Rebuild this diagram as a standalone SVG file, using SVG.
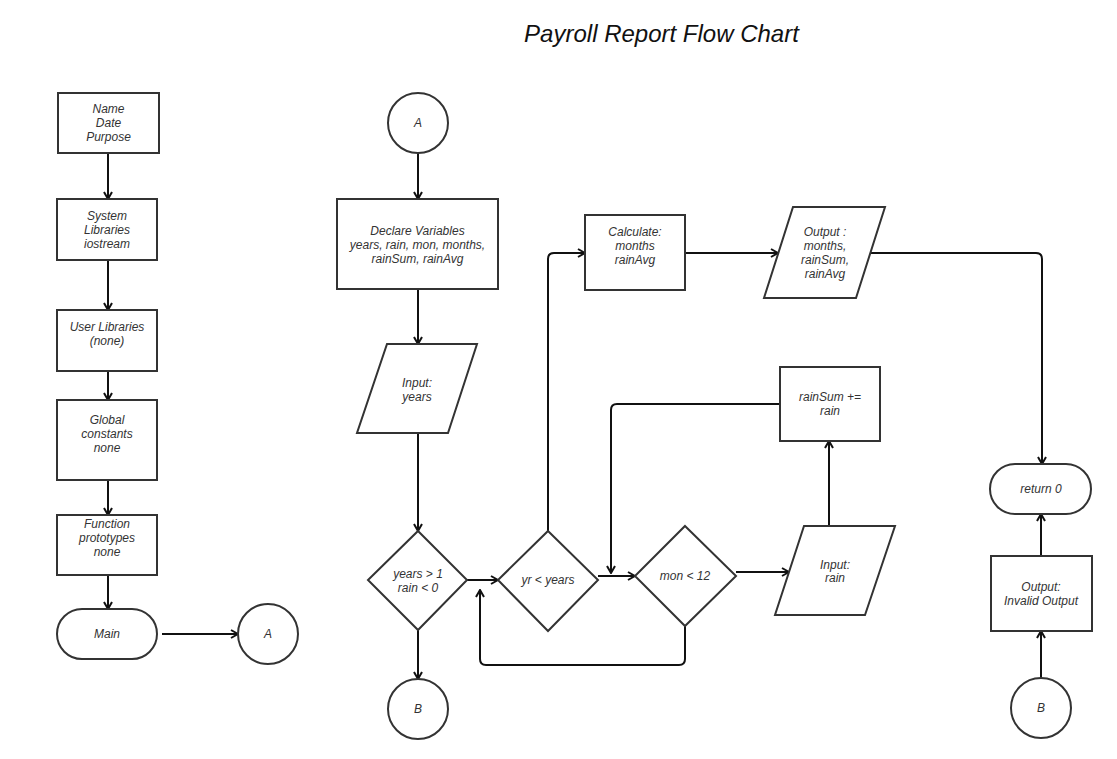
<svg xmlns="http://www.w3.org/2000/svg" width="1117" height="759" viewBox="0 0 1117 759">
<style>
.s{fill:#fff;stroke:#333;stroke-width:2}
.t{font-family:"Liberation Sans",Arial,sans-serif;font-size:12px;font-style:italic;fill:#333;text-anchor:middle}
.c{fill:none;stroke:#111;stroke-width:2}
.title{font-family:"Liberation Sans",Arial,sans-serif;font-size:24px;font-style:italic;fill:#111;text-anchor:middle}
</style>
<defs>
<marker id="ar" viewBox="0 0 10 10" refX="9" refY="5" markerWidth="10" markerHeight="10" markerUnits="userSpaceOnUse" orient="auto">
<path d="M2,1 L9,5 L2,9" fill="none" stroke="#111" stroke-width="2"/>
</marker>
</defs>
<rect width="1117" height="759" fill="#fff"/>
<text class="title" x="661.5" y="42">Payroll Report Flow Chart</text>

<g id="connectors" class="c" marker-end="url(#ar)">
<path d="M108,153 V199"/>
<path d="M108,260 V310"/>
<path d="M108,371 V400"/>
<path d="M108,480 V515"/>
<path d="M108,575 V609"/>
<path d="M162,634 H238"/>
<path d="M418,153 V199"/>
<path d="M418,289 V344"/>
<path d="M418,433 V531"/>
<path d="M418,630 V679"/>
<path d="M467,580 H498"/>
<path d="M548,531 V259 Q548,253 554,253 H585"/>
<path d="M598,576 H635"/>
<path d="M685,626 V659 Q685,665 679,665 H486 Q480,665 480,659 V590"/>
<path d="M736,572 H789"/>
<path d="M829,526 V441"/>
<path d="M780,404 H617 Q611,404 611,410 V573"/>
<path d="M685,253 H778"/>
<path d="M870,253 H1036 Q1042,253 1042,259 V464"/>
<path d="M1041,556 V514"/>
<path d="M1041,678 V631"/>
</g>

<g id="n-header"><rect class="s" x="58" y="93" width="101" height="60"/>
<text class="t" x="108.5" y="113">Name</text><text class="t" x="108.5" y="127">Date</text><text class="t" x="108.5" y="141">Purpose</text></g>
<g id="n-syslib"><rect class="s" x="57" y="199" width="100" height="61"/>
<text class="t" x="107" y="220">System</text><text class="t" x="107" y="234">Libraries</text><text class="t" x="107" y="248">iostream</text></g>
<g id="n-userlib"><rect class="s" x="57" y="310" width="100" height="61"/>
<text class="t" x="107" y="331">User Libraries</text><text class="t" x="107" y="345">(none)</text></g>
<g id="n-global"><rect class="s" x="57" y="400" width="100" height="80"/>
<text class="t" x="107" y="424">Global</text><text class="t" x="107" y="438">constants</text><text class="t" x="107" y="452">none</text></g>
<g id="n-proto"><rect class="s" x="57" y="515" width="100" height="60"/>
<text class="t" x="107" y="528">Function</text><text class="t" x="107" y="542">prototypes</text><text class="t" x="107" y="556">none</text></g>
<g id="n-main"><rect class="s" x="57" y="609" width="100" height="50" rx="25"/>
<text class="t" x="107" y="638">Main</text></g>
<g id="n-a1"><circle class="s" cx="268" cy="634" r="30"/><text class="t" x="268" y="638">A</text></g>

<g id="n-a2"><circle class="s" cx="418" cy="123" r="30"/><text class="t" x="418" y="127">A</text></g>
<g id="n-declare"><rect class="s" x="337" y="199" width="161" height="90"/>
<text class="t" x="417.5" y="235">Declare Variables</text><text class="t" x="417.5" y="249">years, rain, mon, months,</text><text class="t" x="417.5" y="263">rainSum, rainAvg</text></g>
<g id="n-inyears"><polygon class="s" points="387,344 477,344 448,433 357,433"/>
<text class="t" x="417" y="387">Input:</text><text class="t" x="417" y="401">years</text></g>
<g id="n-d1"><polygon class="s" points="418,531 467,580 418,630 368,580"/>
<text class="t" x="418" y="578">years &gt; 1</text><text class="t" x="418" y="592">rain &lt; 0</text></g>
<g id="n-b1"><circle class="s" cx="418" cy="709" r="30"/><text class="t" x="418" y="713">B</text></g>
<g id="n-d2"><polygon class="s" points="548,531 598,580 548,631 498,580"/>
<text class="t" x="548" y="584">yr &lt; years</text></g>
<g id="n-d3"><polygon class="s" points="685,526 736,576 685,626 635,576"/>
<text class="t" x="685" y="580">mon &lt; 12</text></g>
<g id="n-calc"><rect class="s" x="585" y="215" width="100" height="75"/>
<text class="t" x="635" y="236">Calculate:</text><text class="t" x="635" y="250">months</text><text class="t" x="635" y="264">rainAvg</text></g>
<g id="n-out"><polygon class="s" points="793,207 885,207 856,298 764,298"/>
<text class="t" x="825" y="236">Output :</text><text class="t" x="825" y="250">months,</text><text class="t" x="825" y="264">rainSum,</text><text class="t" x="825" y="278">rainAvg</text></g>
<g id="n-sum"><rect class="s" x="780" y="367" width="100" height="74"/>
<text class="t" x="830" y="401">rainSum +=</text><text class="t" x="830" y="415">rain</text></g>
<g id="n-inrain"><polygon class="s" points="804,526 895,526 865,615 775,615"/>
<text class="t" x="835" y="569">Input:</text><text class="t" x="835" y="582">rain</text></g>
<g id="n-ret"><rect class="s" x="990" y="464" width="101" height="50" rx="25"/>
<text class="t" x="1041" y="493">return 0</text></g>
<g id="n-invalid"><rect class="s" x="991" y="556" width="101" height="75"/>
<text class="t" x="1041" y="591">Output:</text><text class="t" x="1041" y="605">Invalid Output</text></g>
<g id="n-b2"><circle class="s" cx="1041" cy="708" r="30"/><text class="t" x="1041" y="712">B</text></g>
</svg>
